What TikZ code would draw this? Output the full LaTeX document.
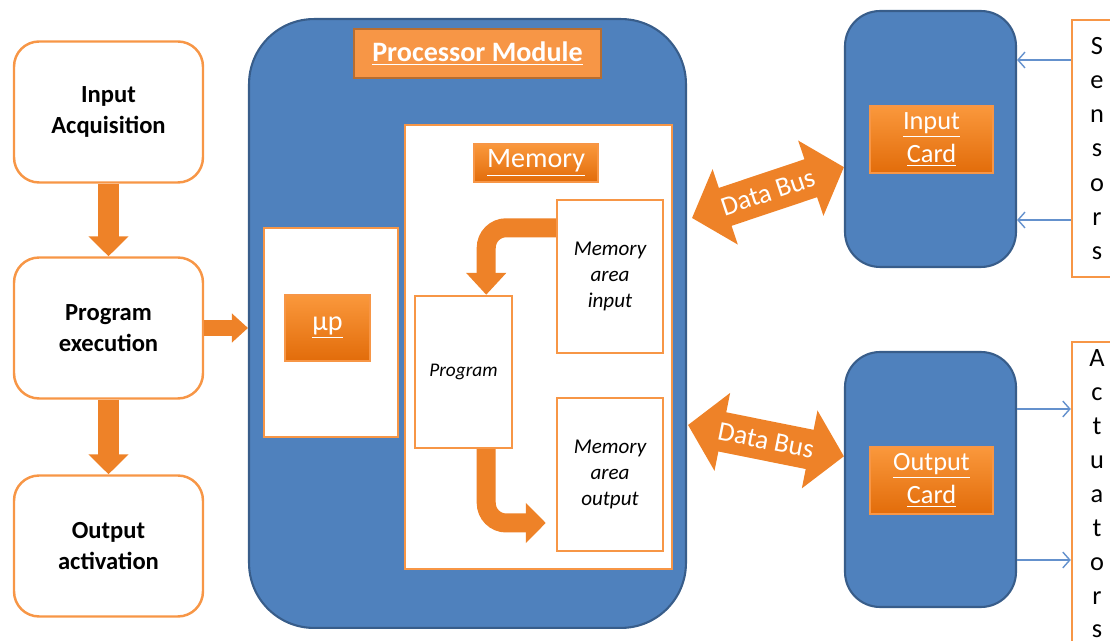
\documentclass[tikz,border=0pt]{standalone}
\usepackage{fontspec}
\setmainfont{Carlito}
\usepackage{tikz}
\usetikzlibrary{arrows.meta}

\definecolor{pmblue}{RGB}{79,129,189}
\definecolor{pmedge}{RGB}{56,93,138}
\definecolor{orline}{RGB}{247,150,70}
\definecolor{ordark}{RGB}{182,109,49}
\definecolor{ortop}{RGB}{250,152,60}
\definecolor{orbot}{RGB}{226,108,10}
\definecolor{arrcol}{RGB}{238,130,40}
\definecolor{sigblue}{RGB}{100,145,205}

\begin{document}
\begin{tikzpicture}[x=0.02cm, y=-0.02cm]
  \tikzstyle{every node} = [inner sep = 0,
                            align = center]
\tikzset{LeftBox/.style={draw=orline, line width=1.4pt, fill=white, rounded corners=0.5cm,
    minimum width=3.78cm, minimum height=2.82cm, font=\fontsize{14}{17.5}\selectfont\bfseries}}
\tikzset{WhiteBox/.style={draw=orline, line width=1.4pt, fill=white}}
\tikzset{BlueBox/.style={draw=pmedge, line width=1.2pt, fill=pmblue}}
\tikzset{Tag/.style={draw=orline, line width=0.6pt, top color=ortop, bottom color=orbot, text=white}}
\tikzset{FatArrow/.style={draw=arrcol, line width=0.44cm, -{Triangle[length=0.4cm, width=0.78cm]}}}
\tikzset{Bus/.style={draw=arrcol, line width=0.8cm,
    {Triangle[length=0.7cm, width=1.55cm]}-{Triangle[length=0.7cm, width=1.55cm]}}}
\tikzset{Signal/.style={draw=sigblue, line width=0.8pt, -{Straight Barb[length=4pt, width=9pt]}}}
\useasboundingbox (0,0) rectangle (1110,641);
\clip (0,0) rectangle (1110,641);

% left column
\node[LeftBox] (Acq) at (108.5,112) {Input\\Acquisition};
\node[LeftBox] (Exe) at (108.5,328) {Program\\execution};
\node[LeftBox] (Outp) at (108.5,546) {Output\\activation};

% processor module
\node[BlueBox, rounded corners=1.3cm, minimum width=8.74cm, minimum height=12.18cm] (PM) at (467.5,323.5) {};
\node[draw=ordark, fill=orline, line width=1.5pt, minimum width=4.94cm, minimum height=0.98cm,
      text=white, font=\fontsize{16}{19}\selectfont\bfseries] (PMtag) at (477.5,53.5) {\underline{Processor Module}};
\node[WhiteBox, minimum width=5.34cm, minimum height=8.88cm] (Mem) at (538.5,347) {};
\node[Tag, minimum width=2.48cm, minimum height=0.76cm, font=\fontsize{16}{19}\selectfont] (Memtag) at (536,163) {\underline{Memory}};
\node[WhiteBox, minimum width=2.68cm, minimum height=4.18cm] (MPbox) at (331,332.5) {};
\node[Tag, minimum width=1.7cm, minimum height=1.32cm, font=\fontsize{16}{19}\selectfont] (MP) at (327.5,328) {\underline{µp}};
\node[WhiteBox, minimum width=1.94cm, minimum height=3.04cm, font=\fontsize{11}{13}\selectfont\itshape] (Prg) at (463.5,372) {Program};
\node[WhiteBox, minimum width=2.12cm, minimum height=3.06cm, font=\fontsize{12}{15}\selectfont\itshape] (MIn) at (610,276.5) {Memory\\area\\input};
\node[WhiteBox, minimum width=2.12cm, minimum height=3.06cm, font=\fontsize{12}{15}\selectfont\itshape] (MOut) at (610,474.5) {Memory\\area\\output};

% cards
\node[BlueBox, rounded corners=0.7cm, minimum width=3.42cm, minimum height=5.12cm] (IC) at (930.5,139) {};
\node[Tag, minimum width=2.46cm, minimum height=1.34cm, font=\fontsize{15}{19}\selectfont] (ICtag) at (931.5,139.5) {\underline{Input}\\\underline{Card}};
\node[BlueBox, rounded corners=0.7cm, minimum width=3.42cm, minimum height=5.1cm] (OC) at (930.5,479.5) {};
\node[Tag, minimum width=2.46cm, minimum height=1.34cm, font=\fontsize{15}{19}\selectfont] (OCtag) at (931.5,480.5) {\underline{Output}\\\underline{Card}};

% sensors and actuators
\node[WhiteBox, minimum width=1.0cm, minimum height=5.14cm, font=\fontsize{15}{19.4}\selectfont] (Sen) at (1097,148.5) {S\\e\\n\\s\\o\\r\\s};
\node[WhiteBox, minimum width=1.0cm, minimum height=6.08cm, font=\fontsize{15}{19.3}\selectfont] (Actu) at (1097,494) {A\\c\\t\\u\\a\\t\\o\\r\\s};

% arrows
\draw[FatArrow] (Acq.south) -- (Exe.north);
\draw[FatArrow] (Exe.south) -- (Outp.north);
\draw[FatArrow, line width=0.32cm, -{Triangle[length=0.32cm, width=0.56cm]}] (Exe.east) -- (Exe.east -| PM.west);
\draw[FatArrow, line width=0.38cm, rounded corners=0.4cm, -{Triangle[length=0.44cm, width=0.78cm]}]
  ([yshift=-0.58cm]MIn.north west) -| ([xshift=-0.54cm]Prg.north east);
\draw[FatArrow, line width=0.38cm, rounded corners=0.4cm, shorten >=0.2cm, -{Triangle[length=0.4cm, width=0.78cm]}]
  ([xshift=-0.54cm]Prg.south east) |- ([yshift=-0.97cm]MOut.west);

\coordinate (b1) at (692,218);
\coordinate (b2) at (688,425);
\draw[Bus] (b1) -- (IC.198) node[midway, sloped, text=white, font=\fontsize{15.5}{18}\selectfont] {Data Bus};
\draw[Bus] (b2) -- (OC.165) node[midway, sloped, text=white, font=\fontsize{15.5}{18}\selectfont] {Data Bus};

\coordinate (s1) at (1040,60);
\coordinate (s2) at (1040,220);
\coordinate (a1) at (1040,409);
\coordinate (a2) at (1040,560);
\draw[Signal] (Sen.west |- s1) -- (IC.east |- s1);
\draw[Signal] (Sen.west |- s2) -- (IC.east |- s2);
\draw[Signal] (OC.east |- a1) -- (Actu.west |- a1);
\draw[Signal] (OC.east |- a2) -- (Actu.west |- a2);

\end{tikzpicture}
\end{document}
